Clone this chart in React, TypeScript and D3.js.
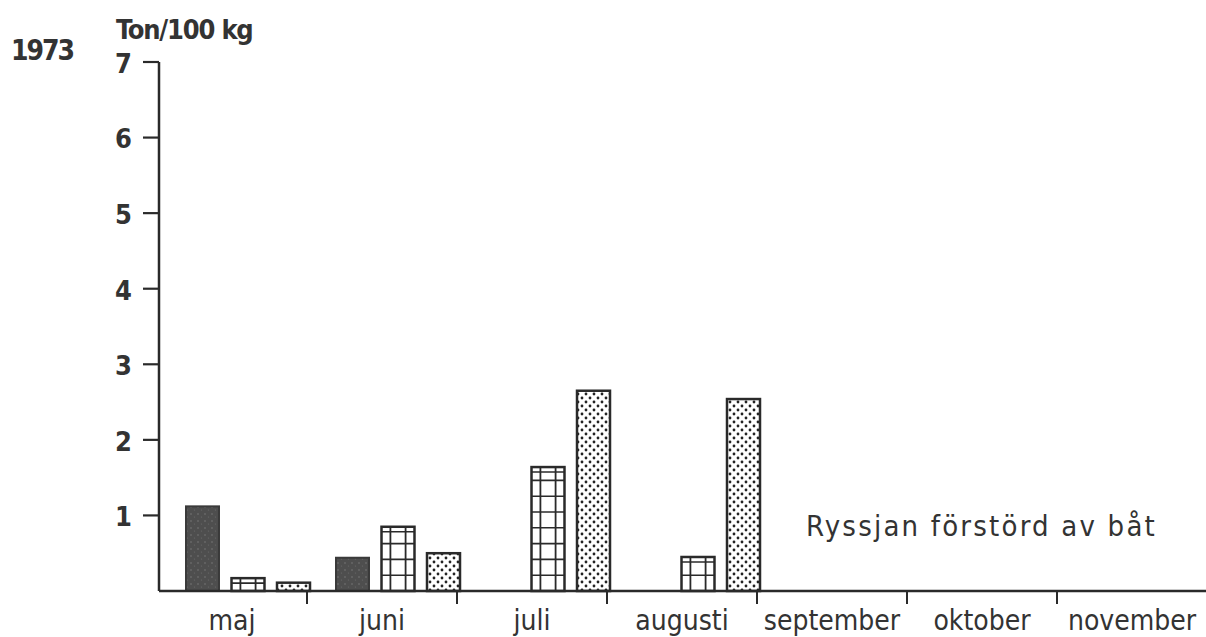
import React from "react";
import * as d3 from "d3";

const months = ["maj", "juni", "juli", "augusti", "september", "oktober", "november"];
const series = ["solid", "grid", "dots"];
const solidValues = [1.12, 0.44, 0, 0, 0, 0, 0];
const gridValues = [0.17, 0.85, 1.64, 0.45, 0, 0, 0];
const dotValues = [0.11, 0.5, 2.65, 2.54, 0, 0, 0];
const yTicks = [1, 2, 3, 4, 5, 6, 7];
const note = "Ryssjan förstörd av båt";

const W = 1206;
const H = 637;
const ink = "#2a2a2a";
const font = "'DejaVu Sans Condensed', 'DejaVu Sans', sans-serif";

export default function App() {
  const x = d3.scaleBand<string>().domain(months).range([157, 1207]).padding(0);
  const xi = d3.scaleBand<string>().domain(series).range([29, 153]).paddingInner(0.275).paddingOuter(0);
  const y = d3.scaleLinear().domain([0, 7]).range([591, 62]);

  const rows = months.flatMap((m, i) => [
    { m, s: "solid", v: solidValues[i] },
    { m, s: "grid", v: gridValues[i] },
    { m, s: "dots", v: dotValues[i] },
  ]).filter((d) => d.v > 0);

  const bw = xi.bandwidth();

  return (
    <svg width={W} height={H} style={{ position: "absolute", left: 0, top: 0, background: "#fff" }}>
      <defs>
        <pattern id="dots" patternUnits="userSpaceOnUse" width={8} height={8}>
          <rect width={8} height={8} fill="#fff" />
          <circle cx={2} cy={2} r={1.4} fill="#222" />
          <circle cx={6} cy={6} r={1.4} fill="#222" />
        </pattern>
        <pattern id="speckle" patternUnits="userSpaceOnUse" width={7} height={7}>
          <rect width={7} height={7} fill="#4e4e4e" />
          <circle cx={2} cy={3} r={0.8} fill="#777" />
          <circle cx={5.5} cy={6} r={0.6} fill="#6a6a6a" />
        </pattern>
      </defs>

      {/* header */}
      <text x={11} y={60} fontFamily={font} fontSize={28} fontWeight="bold" fill="#333" letterSpacing={-2}>1973</text>
      <text x={116} y={39} fontFamily={font} fontSize={27} fontWeight="bold" fill="#333" letterSpacing={-1.2}>Ton/100 kg</text>

      {/* y axis */}
      <line x1={159} x2={159} y1={y(7)} y2={y(0)} stroke={ink} strokeWidth={2.5} />
      {yTicks.map((t) => (
        <g key={t}>
          <line x1={143} x2={159} y1={y(t)} y2={y(t)} stroke={ink} strokeWidth={2.2} />
          <text x={132} y={y(t)} dy="0.4em" textAnchor="end" fontFamily={font} fontSize={27} fontWeight="bold" fill="#333">
            {t}
          </text>
        </g>
      ))}

      {/* bars */}
      {rows.map((d, i) => {
        const bx = (x(d.m) as number) + (xi(d.s) as number);
        const top = y(d.v);
        const base = y(0);
        const h = base - top;
        if (d.s === "solid") {
          return <rect key={i} x={bx} y={top} width={bw} height={h} fill="url(#speckle)" stroke="#3a3a3a" strokeWidth={2} />;
        }
        if (d.s === "dots") {
          return <rect key={i} x={bx} y={top} width={bw} height={h} fill="url(#dots)" stroke={ink} strokeWidth={2.5} />;
        }
        const hs = d3.range(base - 15.8, top + 3, -15.8);
        return (
          <g key={i}>
            <rect x={bx} y={top} width={bw} height={h} fill="#fff" stroke={ink} strokeWidth={2.5} />
            {h > 12 && <line x1={bx} x2={bx + bw} y1={top + 5} y2={top + 5} stroke={ink} strokeWidth={1.6} />}
            {[0.27, 0.73].map((f) => (
              <line key={f} x1={bx + bw * f} x2={bx + bw * f} y1={top} y2={base} stroke={ink} strokeWidth={1.8} />
            ))}
            {hs.map((hy) => (
              <line key={hy} x1={bx} x2={bx + bw} y1={hy} y2={hy} stroke={ink} strokeWidth={1.6} />
            ))}
          </g>
        );
      })}

      {/* x axis */}
      <line x1={159} x2={W} y1={y(0)} y2={y(0)} stroke={ink} strokeWidth={2.5} />
      {months.map((m) => {
        const ex = (x(m) as number) + x.bandwidth();
        return <line key={m} x1={ex} x2={ex} y1={y(0)} y2={y(0) + 13} stroke={ink} strokeWidth={2} />;
      })}
      {months.map((m) => (
        <text key={m} x={(x(m) as number) + x.bandwidth() / 2} y={630} textAnchor="middle" fontFamily={font} fontSize={28} fill="#333">
          {m}
        </text>
      ))}

      <text x={806} y={536} fontFamily={font} fontSize={29} fill="#333" letterSpacing={2.2}>{note}</text>
    </svg>
  );
}
